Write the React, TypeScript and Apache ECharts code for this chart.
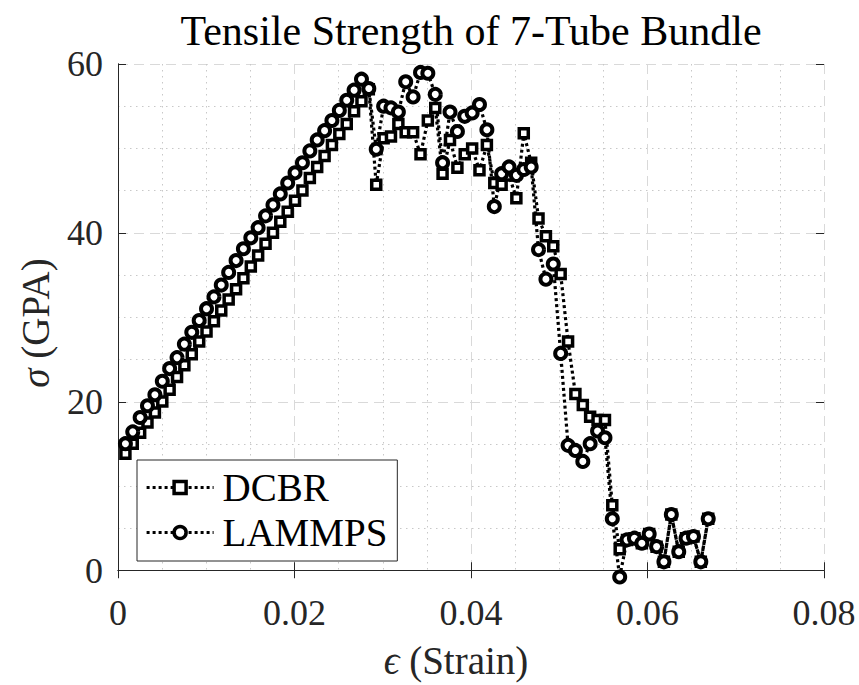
import React, { useEffect, useRef } from 'react';
import * as echarts from 'echarts';

const strain = [
  0.00084, 0.00167, 0.00251, 0.00334, 0.00418, 0.00502, 0.00585, 0.00669, 0.00752, 0.00836,
  0.0092, 0.01003, 0.01087, 0.0117, 0.01254, 0.01338, 0.01421, 0.01505, 0.01588, 0.01672,
  0.01756, 0.01839, 0.01923, 0.02006, 0.0209, 0.02174, 0.02257, 0.02341, 0.02424, 0.02508,
  0.02592, 0.02675, 0.02759, 0.02842, 0.02926, 0.0301, 0.03093, 0.03177, 0.0326, 0.03344,
  0.03428, 0.03511, 0.03595, 0.03678, 0.03762, 0.03846, 0.03929, 0.04013, 0.04096, 0.0418,
  0.04264, 0.04347, 0.04431, 0.04514, 0.04598, 0.04682, 0.04765, 0.04849, 0.04932, 0.05016,
  0.051, 0.05183, 0.05267, 0.0535, 0.05434, 0.05518, 0.05601, 0.05685, 0.05768, 0.05852,
  0.05936, 0.06019, 0.06103, 0.06186, 0.0627, 0.06354, 0.06437, 0.06521, 0.06604, 0.06688,
];

const dcbr = [
  13.8, 15.0, 16.3, 17.5, 18.7, 20.0, 21.4, 22.9, 24.3, 25.6,
  27.1, 28.3, 29.5, 30.8, 32.1, 33.3, 34.6, 36.0, 37.3, 38.7,
  40.0, 41.3, 42.5, 43.8, 45.0, 46.5, 47.8, 49.1, 50.4, 51.7,
  52.9, 54.4, 55.6, 57.0, 45.7, 51.2, 51.4, 52.9, 51.9, 51.9,
  49.3, 53.3, 54.8, 47.0, 51.0, 47.7, 49.3, 50.0, 47.4, 50.4,
  45.9, 45.7, 46.8, 44.1, 51.8, 48.3, 41.7, 39.6, 38.4, 35.1,
  27.1, 20.9, 19.6, 18.2, 17.8, 17.8, 7.7, 2.5, 3.6, 3.8,
  3.2, 4.3, 2.8, 1.0, 6.6, 2.2, 3.8, 4.0, 1.0, 6.1,
];

const lammps = [
  15.0, 16.4, 18.1, 19.5, 20.8, 22.4, 23.9, 25.2, 26.8, 28.2,
  29.6, 31.0, 32.4, 33.8, 35.3, 36.7, 38.1, 39.4, 40.6, 42.0,
  43.3, 44.6, 45.9, 47.1, 48.3, 49.7, 51.0, 52.1, 53.3, 54.5,
  55.7, 56.9, 58.2, 57.1, 49.9, 55.0, 54.8, 54.3, 57.9, 56.1,
  59.0, 58.9, 56.4, 48.3, 54.3, 52.0, 53.8, 54.2, 55.2, 52.2,
  43.1, 47.0, 47.8, 46.8, 47.5, 47.8, 38.0, 34.5, 36.3, 25.7,
  14.8, 14.2, 12.9, 15.0, 16.5, 15.7, 6.1, -0.8, 3.6, 3.8,
  3.2, 4.3, 2.8, 1.0, 6.6, 2.2, 3.8, 4.0, 1.0, 6.1,
];

const seriesNames = ['DCBR', 'LAMMPS'];
const titleText = 'Tensile Strength of 7-Tube Bundle';
const xMin = 0;
const xMax = 0.08;
const xStep = 0.02;
const yMin = -0.8;
const yMax = 60;
const yStep = 20;

const FONT = '"Liberation Serif", "DejaVu Serif", serif';
const AXIS = '#262626';

export default function App() {
  const ref = useRef<HTMLDivElement>(null);

  useEffect(() => {
    if (!ref.current) return;
    const chart = echarts.init(ref.current, null, { renderer: 'svg' });

    const majorGrid = { show: true, lineStyle: { color: '#d9d9d9', width: 1, type: [10, 6] } };
    const minorGrid = { show: true, lineStyle: { color: '#c8c8c8', width: 1, type: [1.5, 4.5] } };
    const labelStyle = { fontFamily: FONT, fontSize: 36, color: AXIS };

    const lineStyle = { color: '#000', width: 3.2, type: [3, 3] as number[], cap: 'butt' };

    chart.setOption({
      animation: false,
      backgroundColor: '#ffffff',
      grid: [
        { left: 118, right: 35, top: 64, bottom: 114.3 },
        { left: 118, right: 35, top: 64, bottom: 108 },
      ],
      xAxis: [
        {
          gridIndex: 0, type: 'value', min: xMin, max: xMax, interval: xStep,
          axisLine: { show: false }, axisTick: { show: false }, axisLabel: { show: false },
          splitLine: majorGrid,
          minorTick: { show: false, splitNumber: 4 },
          minorSplitLine: minorGrid,
        },
        {
          gridIndex: 1, type: 'value', min: xMin, max: xMax, interval: xStep, position: 'bottom',
          axisLine: { show: true, lineStyle: { color: AXIS, width: 1 } },
          axisTick: { show: true, inside: true, length: 8, lineStyle: { color: AXIS } },
          axisLabel: {
            ...labelStyle, margin: 18,
            formatter: (v: number) => (v === 0 ? '0' : v.toFixed(2)),
          },
          splitLine: { show: false },
        },
        {
          gridIndex: 1, type: 'value', min: xMin, max: xMax, interval: xStep, position: 'top',
          axisLine: { show: true, lineStyle: { color: AXIS, width: 1 } },
          axisTick: { show: true, inside: true, length: 8, lineStyle: { color: AXIS } },
          axisLabel: { show: false },
          splitLine: { show: false },
        },
      ],
      yAxis: [
        {
          gridIndex: 0, type: 'value', min: 0, max: yMax, interval: yStep, position: 'left',
          axisLine: { show: false },
          axisTick: { show: true, inside: true, length: 8, lineStyle: { color: AXIS } },
          axisLabel: { ...labelStyle, margin: 15 },
          splitLine: majorGrid,
          minorTick: { show: false, splitNumber: 4 },
          minorSplitLine: minorGrid,
        },
        {
          gridIndex: 0, type: 'value', min: 0, max: yMax, interval: yStep, position: 'right',
          axisLine: { show: false },
          axisTick: { show: true, inside: true, length: 8, lineStyle: { color: AXIS } },
          axisLabel: { show: false },
          splitLine: { show: false },
        },
        {
          gridIndex: 1, type: 'value', min: yMin, max: yMax, position: 'left',
          axisLine: { show: true, lineStyle: { color: AXIS, width: 1 } },
          axisTick: { show: false }, axisLabel: { show: false }, splitLine: { show: false },
        },
        {
          gridIndex: 1, type: 'value', min: yMin, max: yMax, position: 'right',
          axisLine: { show: true, lineStyle: { color: AXIS, width: 1 } },
          axisTick: { show: false }, axisLabel: { show: false }, splitLine: { show: false },
        },
      ],
      legend: {
        data: seriesNames,
        orient: 'vertical',
        left: 137,
        top: 460,
        padding: [8, 10, 9, 8],
        itemGap: 6,
        itemWidth: 67,
        itemHeight: 15,
        backgroundColor: '#ffffff',
        borderColor: AXIS,
        borderWidth: 1,
        borderRadius: 0,
        itemStyle: { color: '#ffffff', borderColor: '#000', borderWidth: 3.5 },
        lineStyle: { color: '#000', width: 3.2, type: [3, 3], cap: 'butt' },
        textStyle: { fontFamily: FONT, fontSize: 39, color: '#000', padding: [0, 0, 0, 4] },
      },
      graphic: [
        {
          type: 'text', x: 471, y: 31, z: 10,
          style: {
            text: titleText, fontFamily: FONT, fontSize: 42, fill: '#000',
            align: 'center', verticalAlign: 'middle',
          },
        },
        {
          type: 'text', x: 35, y: 323, rotation: Math.PI / 2, z: 10,
          style: {
            text: '{i|σ} (GPA)', fontFamily: FONT, fontSize: 39, fill: AXIS,
            align: 'center', verticalAlign: 'middle',
            rich: { i: { fontFamily: FONT, fontSize: 39, fontStyle: 'italic', fill: AXIS } },
          },
        },
        {
          type: 'text', x: 456, y: 660, z: 10,
          style: {
            text: '{i|ϵ} (Strain)', fontFamily: FONT, fontSize: 39, fill: AXIS,
            align: 'center', verticalAlign: 'middle',
            rich: { i: { fontFamily: FONT, fontSize: 39, fontStyle: 'italic', fill: AXIS } },
          },
        },
      ],
      series: [
        {
          name: seriesNames[0], type: 'line', xAxisIndex: 1, yAxisIndex: 2,
          data: strain.map((x, i) => [x, dcbr[i]]),
          symbol: 'rect', symbolSize: 9, showAllSymbol: true, clip: false,
          itemStyle: { color: '#ffffff', borderColor: '#000', borderWidth: 3.5 },
          lineStyle,
        },
        {
          name: seriesNames[1], type: 'line', xAxisIndex: 1, yAxisIndex: 2,
          data: strain.map((x, i) => [x, lammps[i]]),
          symbol: 'circle', symbolSize: 11, showAllSymbol: true, clip: false,
          itemStyle: { color: '#ffffff', borderColor: '#000', borderWidth: 4 },
          lineStyle,
        },
      ],
    });

    return () => chart.dispose();
  }, []);

  return (
    <div
      ref={ref}
      style={{ position: 'fixed', left: 0, top: 0, width: 859, height: 685, background: '#fff' }}
    />
  );
}
